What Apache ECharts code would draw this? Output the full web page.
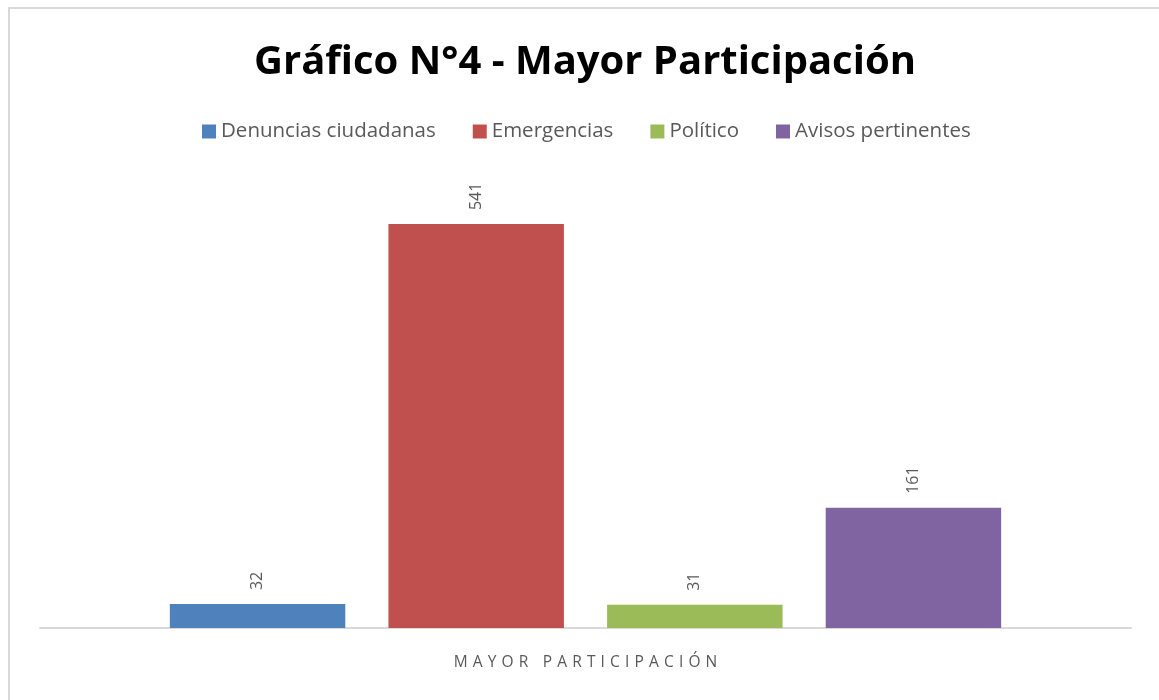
<!DOCTYPE html>
<html>
<head>
<meta charset="utf-8">
<script src="https://cdn.jsdelivr.net/npm/echarts@6/dist/echarts.min.js"></script>
<style>
html, body { margin: 0; padding: 0; background: #fff; }
#chart { width: 1159px; height: 700px; }
</style>
</head>
<body>
<div id="chart"></div>
<script>
let categories = ["Mayor Participación"];
let seriesNames = ["Denuncias ciudadanas", "Emergencias", "Político", "Avisos pertinentes"];
let seriesValues = [[32], [541], [31], [161]];
let colors = ["#4f81bd", "#c0504d", "#9bbb59", "#8064a2"];

let chart = echarts.init(document.getElementById("chart"));

let series = seriesNames.map((name, i) => ({
	name: name,
	type: "bar",
	data: seriesValues[i],
	itemStyle: {color: colors[i]},
	barGap: "24.6%",
	barCategoryGap: "23.8%",
	label: {
		show: true,
		position: "top",
		rotate: 90,
		align: "left",
		verticalAlign: "middle",
		distance: 14,
		color: "#595959",
		fontSize: 16,
		fontFamily: "Open Sans"
	}
}));

chart.setOption({
	animation: false,
	title: {
		text: "Gráfico N°4 - Mayor Participación",
		left: 580,
		textAlign: "center",
		top: 38,
		textStyle: {fontSize: 40, fontWeight: "bold", color: "#000", fontFamily: "Open Sans"}
	},
	legend: {
		top: 116,
		left: 197,
		itemWidth: 14,
		itemHeight: 14,
		itemGap: 37,
		icon: "rect",
		textStyle: {fontSize: 20.5, color: "#595959", fontFamily: "Open Sans"}
	},
	graphic: [{
		type: "rect",
		shape: {x: 9, y: 8, width: 1300, height: 900},
		style: {fill: "none", stroke: "#d9d9d9", lineWidth: 2},
		silent: true
	}],
	grid: {left: 40, right: 28, top: 180, bottom: 72},
	xAxis: {
		type: "category",
		data: categories,
		axisLine: {lineStyle: {color: "#d9d9d9", width: 2}},
		axisTick: {show: false},
		axisLabel: {
			margin: 27,
			color: "#595959",
			fontSize: 15.5,
			fontFamily: "Open Sans",
			formatter: v => v.toUpperCase().split("").join("\u2004")
		}
	},
	yAxis: {
		type: "value",
		min: 0,
		max: 600,
		show: false,
		splitLine: {show: false}
	},
	series: series
});
</script>
</body>
</html>
